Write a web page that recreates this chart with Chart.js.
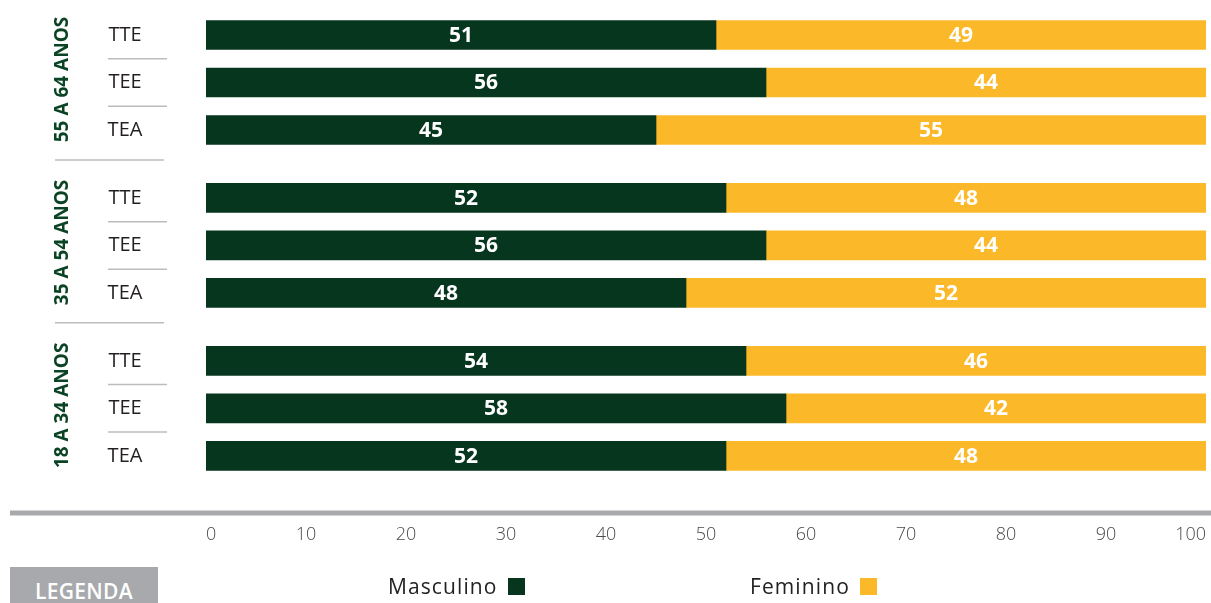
<!DOCTYPE html>
<html>
<head>
<meta charset="utf-8">
<script src="https://cdn.jsdelivr.net/npm/chart.js@4"></script>
<style>
  body { margin: 0; background: #fff; font-family: 'Open Sans', sans-serif; }
  #wrap { position: relative; width: 1211px; height: 603px; overflow: hidden; }
  #legenda {
    position: absolute; left: 10px; top: 567px; width: 148px; height: 40px;
    background: #a7a9ac; color: #fff; font-weight: 600; font-size: 21px;
    text-align: center; line-height: 48px; letter-spacing: 0.3px;
  }
  .item { position: absolute; top: 572px; font-size: 21px; color: #222; letter-spacing: 1.1px; }
  .item i { display: inline-block; width: 17px; height: 17px; margin-left: 10px; vertical-align: -1px; }
</style>
</head>
<body>
<div id="wrap">
  <canvas id="chart" width="1211" height="603"></canvas>
  <div id="legenda">LEGENDA</div>
  <div class="item" style="left:388px">Masculino<i style="background:#07361e"></i></div>
  <div class="item" style="left:750px">Feminino<i style="background:#fbb829"></i></div>
</div>
<script>
// faixas etárias (de cima para baixo) e indicadores em cada faixa
const groups = ['55 A 64 ANOS', '35 A 54 ANOS', '18 A 34 ANOS'];
const indicators = ['TTE', 'TEE', 'TEA'];

// percentuais por sexo, na mesma ordem das linhas
const masculino = [51, 56, 45, 52, 56, 48, 54, 58, 52];
const feminino  = [49, 44, 55, 48, 44, 52, 46, 42, 48];

const xTicks = [0, 10, 20, 30, 40, 50, 60, 70, 80, 90, 100];

const GREEN = '#07361e';
const YELLOW = '#fbb829';

// posição de cada linha no eixo y (espaço extra entre as faixas)
const groupStep = 3.43;
const rowPos = [];
groups.forEach((g, gi) => indicators.forEach((s, si) => rowPos.push(gi * groupStep + si)));

const sideLabels = {
  id: 'sideLabels',
  afterDraw(chart) {
    const { ctx, chartArea, scales: { y } } = chart;
    ctx.save();

    // linha cinza do eixo
    ctx.strokeStyle = '#a7a9ac';
    ctx.lineWidth = 5;
    ctx.beginPath();
    ctx.moveTo(10, chartArea.bottom);
    ctx.lineTo(chart.width, chartArea.bottom);
    ctx.stroke();

    ctx.lineWidth = 1.5;
    ctx.strokeStyle = '#bcbcbc';
    groups.forEach((g, gi) => {
      const base = gi * indicators.length;
      // nome da faixa, na vertical
      const mid = y.getPixelForValue(rowPos[base + 1]);
      ctx.save();
      ctx.translate(63, mid - 3);
      ctx.rotate(-Math.PI / 2);
      ctx.fillStyle = '#0b4424';
      ctx.font = 'bold 19px "Open Sans"';
      ctx.textAlign = 'center';
      ctx.textBaseline = 'middle';
      ctx.fillText(g, 0, 0);
      ctx.restore();

      indicators.forEach((s, si) => {
        const py = y.getPixelForValue(rowPos[base + si]);
        ctx.fillStyle = '#231f20';
        ctx.font = '20px "Open Sans"';
        ctx.textAlign = 'center';
        ctx.textBaseline = 'middle';
        ctx.fillText(s, 125, py);
        if (si < indicators.length - 1) {
          const ly = y.getPixelForValue(rowPos[base + si] + 0.5);
          ctx.beginPath();
          ctx.moveTo(108, ly);
          ctx.lineTo(167, ly);
          ctx.stroke();
        }
      });

      if (gi < groups.length - 1) {
        const ly = y.getPixelForValue(rowPos[base + indicators.length - 1] + 0.63);
        ctx.beginPath();
        ctx.moveTo(55, ly);
        ctx.lineTo(164, ly);
        ctx.stroke();
      }
    });
    ctx.restore();
  }
};

const barValues = {
  id: 'barValues',
  afterDatasetsDraw(chart) {
    const { ctx } = chart;
    ctx.save();
    ctx.fillStyle = '#fff';
    ctx.font = 'bold 21px "Open Sans"';
    ctx.textAlign = 'center';
    ctx.textBaseline = 'middle';
    chart.data.datasets.forEach((ds, di) => {
      chart.getDatasetMeta(di).data.forEach((bar, i) => {
        const c = bar.getCenterPoint();
        ctx.fillText(ds.data[i].x, c.x, c.y + 1);
      });
    });
    ctx.restore();
  }
};

new Chart(document.getElementById('chart'), {
  type: 'bar',
  data: {
    datasets: [
      { label: 'Masculino', data: masculino.map((v, i) => ({ x: v, y: rowPos[i] })), backgroundColor: GREEN },
      { label: 'Feminino', data: feminino.map((v, i) => ({ x: v, y: rowPos[i] })), backgroundColor: YELLOW }
    ]
  },
  options: {
    indexAxis: 'y',
    responsive: false,
    animation: false,
    barThickness: 29,
    layout: { padding: { left: 206, right: 5, top: 0, bottom: 60 } },
    plugins: { legend: { display: false }, tooltip: { enabled: false } },
    scales: {
      x: {
        stacked: true,
        min: 0,
        max: 100,
        afterBuildTicks: axis => { axis.ticks = xTicks.map(v => ({ value: v })); },
        afterFit: axis => { axis.height = 30; axis.paddingLeft = 0; axis.paddingRight = 0; },
        grid: { display: false, drawTicks: false },
        border: { display: false },
        ticks: { padding: 11, align: 'inner', color: '#4a4a4a', font: { family: 'Open Sans', size: 18, weight: 300 } }
      },
      y: {
        type: 'linear',
        stacked: true,
        reverse: true,
        offset: false,
        display: false,
        min: -0.737,
        max: 10.063
      }
    }
  },
  plugins: [sideLabels, barValues]
});
</script>
</body>
</html>
